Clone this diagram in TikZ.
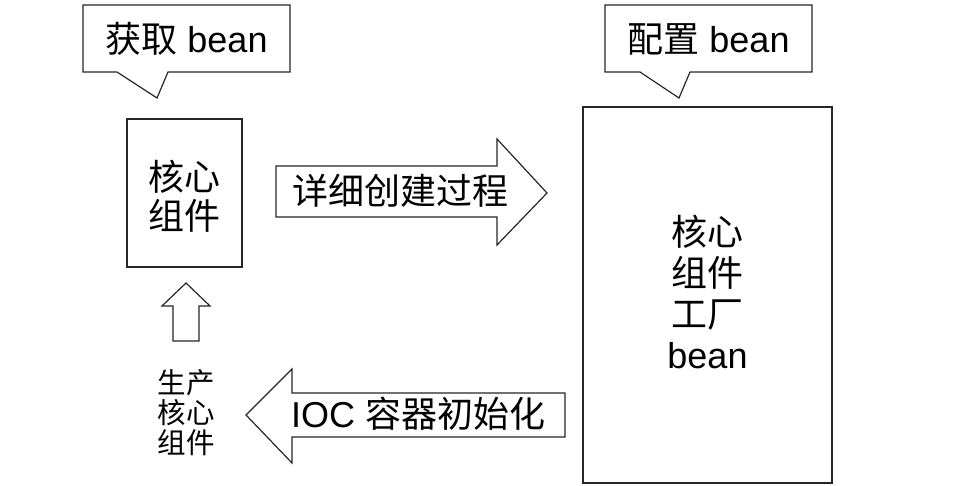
\documentclass[tikz,border=0pt]{standalone}
\usepackage{fontspec}
\setmainfont{Liberation Sans}
\newfontfamily\cjk{Noto Sans CJK SC}
\tikzset{
  shp/.style={draw=black!85, line width=1.2pt, fill=white, line join=miter},
  big/.style={font=\fontsize{36}{38}\selectfont, inner sep=0pt, align=center, text=black},
  small/.style={font=\fontsize{28.5}{30}\selectfont, inner sep=0pt, align=center, text=black},
}
\begin{document}
\begin{tikzpicture}[x=1pt,y=-1pt]
\useasboundingbox (0,0) rectangle (970,486);
% callout 1
\draw[shp] (83,5) -- (290,5) -- (290,72) -- (168,72) -- (157,98) -- (117,72) -- (83,72) -- cycle;
\node[big] (c1) at (186.5,39) {{\cjk 获取} bean};
% callout 2
\draw[shp] (605,5) -- (812,5) -- (812,72) -- (690,72) -- (679,98) -- (640,72) -- (605,72) -- cycle;
\node[big] (c2) at (708.5,39) {{\cjk 配置} bean};
% small box
\draw[shp] (127,119) rectangle (242,267);
\node[big] (core) at (184.5,196) {\cjk 核心\\[1pt]\cjk 组件};
% big box
\draw[shp] (583,107) rectangle (832,483);
\node[big] (factory) at (707.5,292) {\cjk 核心\\[3pt]\cjk 组件\\[3pt]\cjk 工厂\\[3pt]bean};
% right arrow
\draw[shp] (276,166) -- (497,166) -- (497,139) -- (547,193) -- (497,245) -- (497,217) -- (276,217) -- cycle;
\node[big] (detail) at (400,191) {\cjk 详细创建过程};
% left arrow
\draw[shp] (565,393) -- (292,393) -- (292,369) -- (246,415) -- (292,463) -- (292,437) -- (565,437) -- cycle;
\node[big] (ioc) at (418,414) {IOC {\cjk 容器初始化}};
% up arrow
\draw[shp] (186,283) -- (210,306) -- (199,306) -- (199,341) -- (173,341) -- (173,306) -- (162,306) -- cycle;
\node[small] (prod) at (186,413) {\cjk 生产\\\cjk 核心\\\cjk 组件};
\end{tikzpicture}
\end{document}
